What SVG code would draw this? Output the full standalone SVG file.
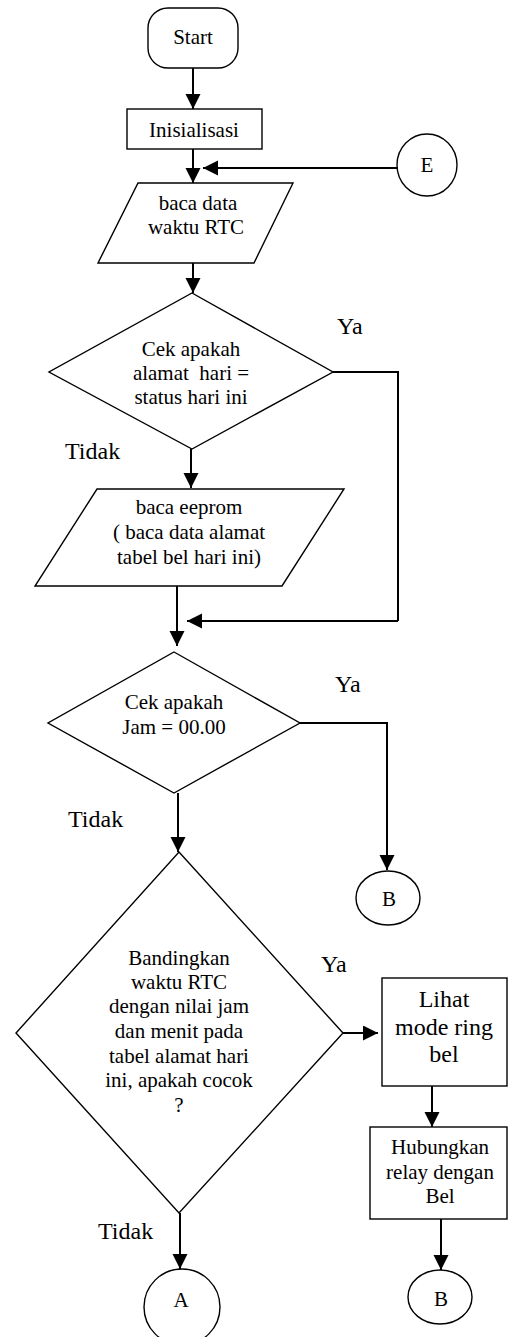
<svg xmlns="http://www.w3.org/2000/svg" width="508" height="1337" viewBox="0 0 508 1337">
<style>
.s{fill:#fff;stroke:#000;stroke-width:1.4}
.t{font-family:"Liberation Serif","Times New Roman",serif;font-size:21px;text-anchor:middle;fill:#000}
.b{font-size:24px}
.l{font-family:"Liberation Serif","Times New Roman",serif;font-size:24px;fill:#000}
.c{fill:none;stroke:#000;stroke-width:2}
</style>
<defs>
<marker id="ah" markerUnits="userSpaceOnUse" markerWidth="16" markerHeight="16" refX="15" refY="7.5" orient="auto">
<path d="M0,0 L15,7.5 L0,15 z" fill="#000"/>
</marker>
</defs>
<rect width="508" height="1337" fill="#fff"/>
<g id="connectors">
<line class="c" x1="193" y1="68" x2="193" y2="109" marker-end="url(#ah)"/>
<line class="c" x1="193" y1="149" x2="193" y2="183" marker-end="url(#ah)"/>
<line class="c" x1="397" y1="168" x2="203" y2="168" marker-end="url(#ah)"/>
<line class="c" x1="193" y1="263" x2="193" y2="293" marker-end="url(#ah)"/>
<polyline class="c" points="333,372 398,372 398,621"/>
<line class="c" x1="398" y1="621" x2="187" y2="621" marker-end="url(#ah)"/>
<line class="c" x1="191" y1="449" x2="191" y2="488" marker-end="url(#ah)"/>
<line class="c" x1="177" y1="586" x2="177" y2="646" marker-end="url(#ah)"/>
<polyline class="c" points="300,723 387,723 387,870" marker-end="url(#ah)"/>
<line class="c" x1="178" y1="793" x2="178" y2="852" marker-end="url(#ah)"/>
<line class="c" x1="343" y1="1033" x2="378" y2="1033" marker-end="url(#ah)"/>
<line class="c" x1="432" y1="1086" x2="432" y2="1127" marker-end="url(#ah)"/>
<line class="c" x1="441" y1="1219" x2="441" y2="1270" marker-end="url(#ah)"/>
<line class="c" x1="180" y1="1213" x2="180" y2="1269" marker-end="url(#ah)"/>
</g>
<g id="labels">
<text class="l" x="337" y="334">Ya</text>
<text class="l" x="65" y="459">Tidak</text>
<text class="l" x="335" y="692">Ya</text>
<text class="l" x="68" y="827">Tidak</text>
<text class="l" x="321" y="972">Ya</text>
<text class="l" x="98" y="1239">Tidak</text>
</g>
<g id="start">
<rect class="s" x="148" y="8" width="90" height="60" rx="20" ry="20"/>
<text class="t" x="193" y="44">Start</text>
</g>
<g id="init">
<rect class="s" x="127" y="109" width="135" height="40"/>
<text class="t" x="194" y="137">Inisialisasi</text>
</g>
<g id="E">
<ellipse class="s" cx="427" cy="165" rx="30" ry="31"/>
<text class="t" x="427" y="172">E</text>
</g>
<g id="baca-rtc">
<polygon class="s" points="138,183 293,183 254,263 98,263"/>
<text class="t" x="198" y="210">baca data</text>
<text class="t" x="196" y="234">waktu RTC</text>
</g>
<g id="cek-hari">
<polygon class="s" points="192,293 333,372 192,449 49,372"/>
<text class="t" x="191" y="356">Cek apakah</text>
<text class="t" x="191" y="380" xml:space="preserve">alamat  hari =</text>
<text class="t" x="191" y="404">status hari ini</text>
</g>
<g id="baca-eeprom">
<polygon class="s" points="97,489 344,489 282,586 35,586"/>
<text class="t" x="189" y="514">baca eeprom</text>
<text class="t" x="189" y="539">( baca data alamat</text>
<text class="t" x="189" y="564">tabel bel hari ini)</text>
</g>
<g id="cek-jam">
<polygon class="s" points="174,652 300,723 174,793 48,723"/>
<text class="t" x="174" y="709">Cek apakah</text>
<text class="t" x="174" y="734">Jam = 00.00</text>
</g>
<g id="B1">
<ellipse class="s" cx="388" cy="898" rx="32" ry="27"/>
<text class="t" x="389" y="906">B</text>
</g>
<g id="bandingkan">
<polygon class="s" points="179,852 343,1033 179,1213 16,1033"/>
<text class="t" x="179" y="965">Bandingkan</text>
<text class="t" x="179" y="989">waktu RTC</text>
<text class="t" x="179" y="1013">dengan nilai jam</text>
<text class="t" x="179" y="1038">dan menit pada</text>
<text class="t" x="179" y="1063">tabel alamat hari</text>
<text class="t" x="179" y="1087">ini, apakah cocok</text>
<text class="t" x="179" y="1112">?</text>
</g>
<g id="lihat">
<rect class="s" x="382" y="978" width="125" height="108"/>
<text class="t b" x="444" y="1007">Lihat</text>
<text class="t b" x="444" y="1035">mode ring</text>
<text class="t b" x="444" y="1062">bel</text>
</g>
<g id="hubungkan">
<rect class="s" x="370" y="1127" width="137" height="92"/>
<text class="t" x="440" y="1154">Hubungkan</text>
<text class="t" x="440" y="1179">relay dengan</text>
<text class="t" x="440" y="1203">Bel</text>
</g>
<g id="A">
<ellipse class="s" cx="182" cy="1307" rx="38" ry="38"/>
<text class="t" x="181" y="1307">A</text>
</g>
<g id="B2">
<ellipse class="s" cx="440" cy="1297" rx="32" ry="27"/>
<text class="t" x="441" y="1306">B</text>
</g>
</svg>
